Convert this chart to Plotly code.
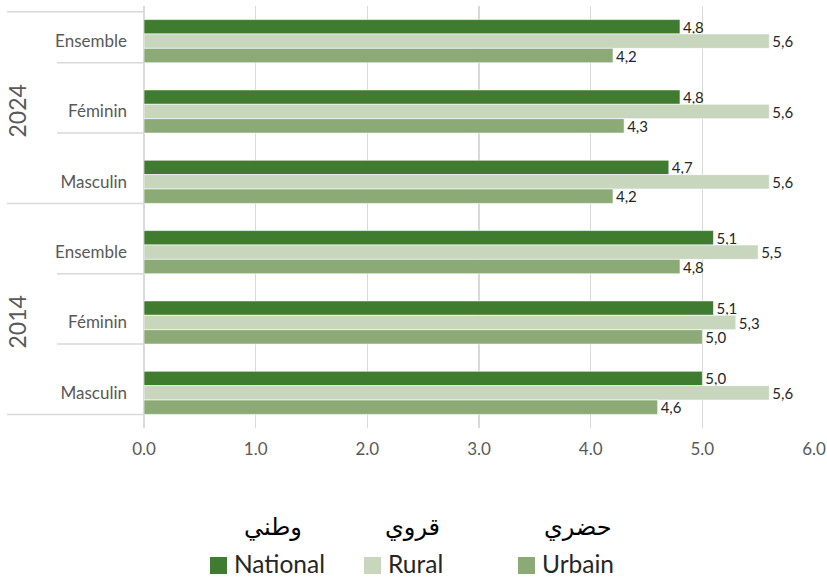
import plotly.graph_objects as go

years = ["2024", "2014"]
groups = ["Ensemble", "Féminin", "Masculin"]
series_names = ["National", "Rural", "Urbain"]
series_arabic = ["وطني", "قروي", "حضري"]
national = [4.8, 4.8, 4.7, 5.1, 5.1, 5.0]
rural = [5.6, 5.6, 5.6, 5.5, 5.3, 5.6]
urbain = [4.2, 4.3, 4.2, 4.8, 5.0, 4.6]
x_ticks = [0, 1, 2, 3, 4, 5, 6]
colors = ["#407C2F", "#C8D6BE", "#8BAA76"]

cat_labels = [g for y in years for g in groups]
ypos = list(range(len(cat_labels)))

FONT = "Lato, 'Open Sans', sans-serif"
GRAY = "#595959"

# plot area geometry (pixels)
L, R, T, B = 144, 13, 6, 150
W, H = 827, 578
PW, PH = W - L - R, H - T - B


def px_x(p):
    return (p - L) / PW


def px_y(p):
    return (H - B - p) / PH


fig = go.Figure()
for name, vals, col in zip(series_names, [national, rural, urbain], colors):
    fig.add_trace(go.Bar(
        y=ypos, x=vals, name=name, orientation="h",
        marker=dict(color=col, line=dict(color="white", width=0.6)),
        text=[f"{v:.1f}".replace(".", ",") for v in vals],
        textposition="outside", cliponaxis=False, constraintext="none",
        textfont=dict(family=FONT, size=15, color="#262626"),
        hoverinfo="skip", showlegend=False,
    ))

half = (1 - 0.386) / 2
shapes = []
n = len(groups)
for i in ypos:
    full = (i % n) == n - 1
    shapes.append(dict(type="line", xref="paper", yref="y",
                       x0=px_x(7 if full else 57), x1=0,
                       y0=i + half, y1=i + half,
                       line=dict(color="#D9D9D9", width=1.5)))
shapes.append(dict(type="line", xref="paper", yref="y",
                   x0=px_x(7), x1=0, y0=-0.42, y1=-0.42,
                   line=dict(color="#D9D9D9", width=1.5)))

annotations = []
for k, yr in enumerate(years):
    annotations.append(dict(xref="paper", yref="y", x=px_x(16),
                            y=k * n + (n - 1) / 2, text=yr, textangle=-90,
                            showarrow=False, xanchor="center", yanchor="middle",
                            font=dict(family=FONT, size=23, color=GRAY)))

# custom legend: arabic label above, colored square + name below
arabic_x = [273, 412, 578]
square_x = [210, 364, 518]
SQ = 17
for ax, sx, t, nm, col in zip(arabic_x, square_x, series_arabic, series_names, colors):
    annotations.append(dict(xref="paper", yref="paper", x=px_x(ax),
                            y=px_y(527), text=t, showarrow=False,
                            xanchor="center", yanchor="middle",
                            font=dict(family="'DejaVu Sans', serif", size=24, color="#000000")))
    shapes.append(dict(type="rect", xref="paper", yref="paper",
                       x0=px_x(sx), x1=px_x(sx + SQ),
                       y0=px_y(557), y1=px_y(557 + SQ),
                       fillcolor=col, line=dict(width=0)))
    annotations.append(dict(xref="paper", yref="paper", x=px_x(sx + SQ + 5),
                            y=px_y(563), text=nm, showarrow=False,
                            xanchor="left", yanchor="middle",
                            font=dict(family=FONT, size=24.5, color="#262626")))

fig.update_layout(
    width=W, height=H,
    margin=dict(l=L, r=R, t=T, b=B, autoexpand=False),
    paper_bgcolor="white", plot_bgcolor="white",
    barmode="group", bargap=0.386, bargroupgap=0,
    showlegend=False,
    xaxis=dict(range=[0, 6], tickvals=x_ticks, automargin=False,
               ticktext=[f"{v:.1f}" for v in x_ticks],
               showgrid=True, gridcolor="#D9D9D9", gridwidth=1.5,
               zeroline=True, zerolinecolor="#D9D9D9", zerolinewidth=1.5,
               showline=False, ticks="", ticklabelstandoff=9,
               tickfont=dict(family=FONT, size=17, color=GRAY)),
    yaxis=dict(range=[len(ypos) - 0.5, -0.5], tickvals=ypos, ticktext=cat_labels,
               automargin=False,
               showgrid=False, zeroline=False, showline=False, ticks="",
               ticklabelstandoff=16,
               tickfont=dict(family=FONT, size=17, color=GRAY)),
    shapes=shapes, annotations=annotations,
)

fig.write_html(
    "out.html",
    config={"displayModeBar": False, "staticPlot": True},
    post_script="document.body.style.margin='0';document.body.style.padding='0';"
                "document.body.style.overflow='hidden';",
)
